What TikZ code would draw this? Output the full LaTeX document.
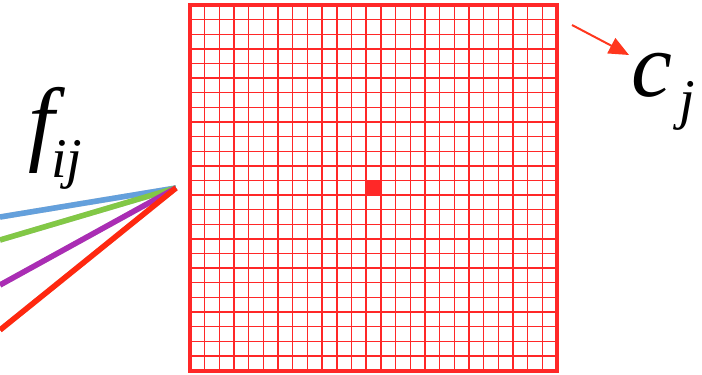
\documentclass[tikz,border=0pt]{standalone}
\usepackage{tikz}
\usepackage{xcolor}
\usepackage{fontspec}
\setmainfont{Liberation Serif}
\usetikzlibrary{arrows.meta}
\definecolor{gridred}{RGB}{255,40,40}
\definecolor{rayblue}{RGB}{100,160,220}
\definecolor{raygreen}{RGB}{130,200,70}
\definecolor{raypurple}{RGB}{170,45,180}
\definecolor{rayred}{RGB}{255,40,15}
\definecolor{pointred}{RGB}{255,55,30}
\def\borderStroke{4pt}
\def\gridStroke{1.4pt}
\def\rayStroke{5.5pt}
\tikzset{
  ray/.style={line width=\rayStroke},
  rayshadow/.style={line width=\rayStroke, black, opacity=0.18, shift={(1.5,2)}},
  gridline/.style={gridred, line width=\gridStroke},
  pointer/.style={pointred, line width=2pt, -{Triangle[length=20pt, width=17pt]}},
  biglabel/.style={anchor=base west, inner sep=0pt, font=\itshape}
}

\begin{document}
\begin{tikzpicture}[x=1pt, y=-1pt]
\useasboundingbox (0,0) rectangle (702,375);

% Grid dimensions
\def\gridl{190}
\def\gridt{5}
\def\gridw{367}
\def\gridh{365.5}
\def\ncell{25}

% --- Rays meeting at the hub ---
\coordinate (hub) at (176,188);
\coordinate (blueend) at (0,217);
\coordinate (greenend) at (0,240);
\coordinate (purpleend) at (0,285);
\coordinate (redend) at (0,330);
\foreach \e in {blueend,greenend,purpleend,redend}
  \draw[rayshadow] (\e) -- (hub);
\draw[ray, rayblue] (blueend) -- (hub);
\draw[ray, raygreen] (greenend) -- (hub);
\draw[ray, raypurple] (purpleend) -- (hub);
\draw[ray, rayred] (redend) -- (hub);

% --- Grid lines ---
\foreach \i in {1,...,24} {
  \draw[gridline] (\gridl + \i*\gridw/\ncell, \gridt) -- ++(0,\gridh);
  \draw[gridline] (\gridl, \gridt + \i*\gridh/\ncell) -- ++(\gridw,0);
}

% Centre cell
\fill[gridred] (\gridl + 12*\gridw/\ncell, \gridt + 12*\gridh/\ncell) rectangle ++(\gridw/\ncell, \gridh/\ncell);

% Border
\draw[gridred, line width=\borderStroke] (\gridl,\gridt) rectangle ++(\gridw,\gridh);

% --- Labels ---
\node[biglabel] (fij) at (28,153)
  {\fontsize{94}{94}\selectfont f\kern-3pt\raisebox{-24pt}{\fontsize{56}{56}\selectfont ij}};
\node[biglabel] (cj) at (631,96)
  {\fontsize{92}{92}\selectfont c\kern7pt\raisebox{-22pt}{\fontsize{56}{56}\selectfont j}};

% Arrow to c_j
\coordinate (arrowtail) at (572,25);
\coordinate (arrowtip) at (629,55);
\draw[pointer] (arrowtail) -- (arrowtip);

\end{tikzpicture}
\end{document}
